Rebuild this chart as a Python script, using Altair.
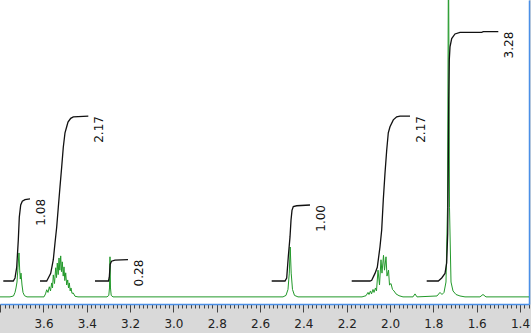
import altair as alt
import pandas as pd

# ---- spectrum (ppm, intensity) ----
spec_ppm = [3.8010, 3.7546, 3.7385, 3.7315, 3.7269, 3.7223, 3.7177, 3.7131, 3.7099, 3.7071,
            3.7038, 3.6992, 3.6946, 3.6877, 3.6761,
            3.5977, 3.5907, 3.5852, 3.5792, 3.5732, 3.5677, 3.5621, 3.5584, 3.5547, 3.5492,
            3.5436, 3.5399, 3.5363, 3.5321, 3.5284, 3.5247, 3.5206, 3.5169, 3.5132, 3.5090,
            3.5053, 3.5016, 3.4975, 3.4929, 3.4882, 3.4845, 3.4808, 3.4767, 3.4730, 3.4684,
            3.4624, 3.4545, 3.4407,
            3.3068, 3.2985, 3.2953, 3.2930, 3.2907, 3.2874, 3.2791,
            2.4943, 2.4804, 2.4712, 2.4652, 2.4610, 2.4564, 2.4504, 2.4412, 2.4250,
            2.1295, 2.1110, 2.1018, 2.0972, 2.0903, 2.0856, 2.0787, 2.0741, 2.0672, 2.0626,
            2.0556, 2.0487, 2.0418, 2.0372, 2.0302, 2.0256, 2.0187, 2.0141, 2.0071, 2.0025,
            1.9956, 1.9887, 1.9818, 1.9725, 1.9587, 1.9402,
            1.8941, 1.8848, 1.8756,
            1.7832, 1.7694, 1.7602, 1.7509, 1.7417, 1.7348, 1.7302, 1.7255, 1.7186, 1.7094,
            1.6955, 1.6771, 1.6540,
            1.5848, 1.5709, 1.5570, 1.3585]
spec_int = [0.0, 0.0, 0.3, 1.5, 3.0, 5.0, 10.0, 14.8, 9.0, 6.0,
            8.0, 4.0, 1.5, 0.4, 0.0,
            0.0, 1.0, 2.4, 1.5, 3.4, 2.0, 4.7, 3.0, 7.4, 4.5,
            9.8, 6.5, 11.4, 7.5, 13.1, 9.0, 13.8, 8.5, 11.8, 7.0,
            10.1, 5.5, 8.1, 4.0, 5.7, 3.0, 4.7, 2.0, 3.0, 1.2,
            1.3, 0.2, 0.0,
            0.0, 0.5, 3.0, 13.5, 3.0, 0.5, 0.0,
            0.0, 0.5, 2.5, 8.0, 16.8, 8.0, 2.5, 0.5, 0.0,
            0.0, 0.4, 1.5, 0.8, 2.0, 1.0, 2.5, 1.5, 3.0, 2.0,
            9.0, 4.0, 12.5, 8.0, 14.0, 9.0, 13.5, 7.0, 9.0, 4.0,
            4.5, 2.5, 2.0, 1.0, 0.4, 0.0,
            0.0, 1.0, 0.0,
            0.3, 1.5, 0.8, 1.5, 5.0, 30.0, 120.0, 30.0, 5.0, 2.0,
            0.8, 0.3, 0.0,
            0.0, 0.8, 0.0, 0.0]

# ---- integral curves (ppm, cumulative integral) ----
int1_ppm = [3.7856, 3.7394, 3.7315, 3.7237, 3.7163, 3.7117, 3.7052, 3.6978, 3.6854, 3.6623]
int1_val = [0, 0, 0.04, 0.18, 0.54, 0.84, 1.0, 1.05, 1.07, 1.08]
int2_ppm = [3.6161, 3.5852, 3.5778, 3.5667, 3.5547, 3.5469, 3.5390, 3.5316, 3.5238, 3.5160,
            3.5086, 3.5007, 3.4929, 3.4869, 3.4744, 3.4624, 3.3931]
int2_val = [0, 0, 0.04, 0.1, 0.28, 0.5, 0.71, 0.97, 1.24, 1.5, 1.76, 1.95, 2.03, 2.09, 2.14, 2.16, 2.17]
int3_ppm = [3.3622, 3.2999, 3.2962, 3.2920, 3.2860, 3.2699, 3.2099]
int3_val = [0, 0, 0.05, 0.22, 0.26, 0.275, 0.28]
int4_ppm = [2.5464, 2.4850, 2.4772, 2.4698, 2.4619, 2.4573, 2.4527, 2.4467, 2.4310, 2.3696]
int4_val = [0, 0, 0.04, 0.32, 0.58, 0.8, 0.93, 0.98, 0.99, 1.0]
int5_ppm = [2.1770, 2.0926, 2.0847, 2.0695, 2.0589, 2.0464, 2.0386, 2.0312, 2.0233, 2.0155,
            2.0081, 2.0003, 1.9850, 1.9693, 1.9541, 1.9079]
int5_val = [0, 0, 0.01, 0.1, 0.18, 0.45, 0.67, 1.07, 1.42, 1.72, 1.95, 2.03, 2.12, 2.16, 2.17, 2.17]
int6_ppm = [1.8308, 1.7772, 1.7615, 1.7463, 1.7385, 1.7338, 1.7311, 1.7292, 1.7265, 1.7232,
            1.7154, 1.7002, 1.6771, 1.5769, 1.5695, 1.5002]
int6_val = [0, 0, 0.04, 0.1, 0.24, 0.63, 1.5, 2.38, 2.91, 3.08, 3.19, 3.25, 3.27, 3.27, 3.28, 3.28]

int_labels = ["1.08", "2.17", "0.28", "1.00", "2.17", "3.28"]

# ---- axis tick labels ----
tick_labels = [3.6, 3.4, 3.2, 3.0, 2.8, 2.6, 2.4, 2.2, 2.0, 1.8, 1.6, 1.4]
minor_ticks = [round(1.36 + 0.02 * i, 2) for i in range(123)]

spec_df = pd.DataFrame({"ppm": spec_ppm, "I": spec_int})

int_sets = [(int1_ppm, int1_val), (int2_ppm, int2_val), (int3_ppm, int3_val),
            (int4_ppm, int4_val), (int5_ppm, int5_val), (int6_ppm, int6_val)]
rows, lab_rows = [], []
for k, (pp, vv) in enumerate(int_sets):
    for j, (p, v) in enumerate(zip(pp, vv)):
        rows.append({"ppm": p, "v": v, "region": k, "order": j})
    lab_rows.append({"ppm": pp[-1], "v": vv[-1], "label": int_labels[k]})
int_df = pd.DataFrame(rows)
lab_df = pd.DataFrame(lab_rows)

major_test = "abs(datum.value*5 - round(datum.value*5)) < 0.001"
shown = "indexof([" + ",".join(str(t) for t in tick_labels) + "], round(datum.value*10)/10) >= 0"

xscale = alt.Scale(domain=[3.8008, 1.3585], nice=False, zero=False)
xaxis = alt.Axis(
    values=minor_ticks,
    labelExpr=f"({major_test}) && ({shown}) ? format(datum.value, '.1f') : ''",
    labelOverlap=False,
    labelFlush=False,
    tickSize={"condition": {"test": major_test, "value": 8}, "value": 4},
    tickColor="#444444",
    tickWidth=1,
    domainColor="#4a8fe7",
    domainWidth=1.5,
    labelFont="DejaVu Sans",
    labelFontSize=12,
    labelColor="#222222",
    labelPadding=6,
    labelBaseline="top",
    grid=False,
    title=None,
)
yscale_int = alt.Scale(domain=[-0.3026, 3.697], nice=False, zero=False)

spec = alt.Chart(spec_df).mark_line(color="#22992a", strokeWidth=1, clip=True).encode(
    x=alt.X("ppm:Q", scale=xscale, axis=xaxis),
    y=alt.Y("I:Q", scale=alt.Scale(domain=[-2.4, 100], nice=False, zero=False),
            axis=alt.Axis(orient="right", domainColor="#4a8fe7", domainWidth=1.5,
                          ticks=False, labels=False, grid=False, title=None)),
)

integrals = alt.Chart(int_df).mark_line(color="#111111", strokeWidth=1.3, clip=True).encode(
    x=alt.X("ppm:Q", scale=xscale, axis=xaxis),
    y=alt.Y("v:Q", scale=yscale_int, axis=None),
    detail="region:N",
    order="order:Q",
)

labels = alt.Chart(lab_df).mark_text(
    angle=270, align="right", baseline="middle", dy=11,
    font="DejaVu Sans", fontSize=12, color="#111111",
).encode(
    x=alt.X("ppm:Q", scale=xscale, axis=xaxis),
    y=alt.Y("v:Q", scale=yscale_int, axis=None),
    text="label:N",
)

chart = alt.layer(spec, integrals, labels).resolve_scale(y="independent").properties(
    width=529, height=304,
    padding={"left": 0, "top": 0, "right": 2, "bottom": 29},
    autosize=alt.AutoSizeParams(type="none"),
    background="#d9d9d9",
).configure_view(stroke=None, fill="white")

chart.save("out.html", embed_options={"renderer": "svg", "actions": False})
